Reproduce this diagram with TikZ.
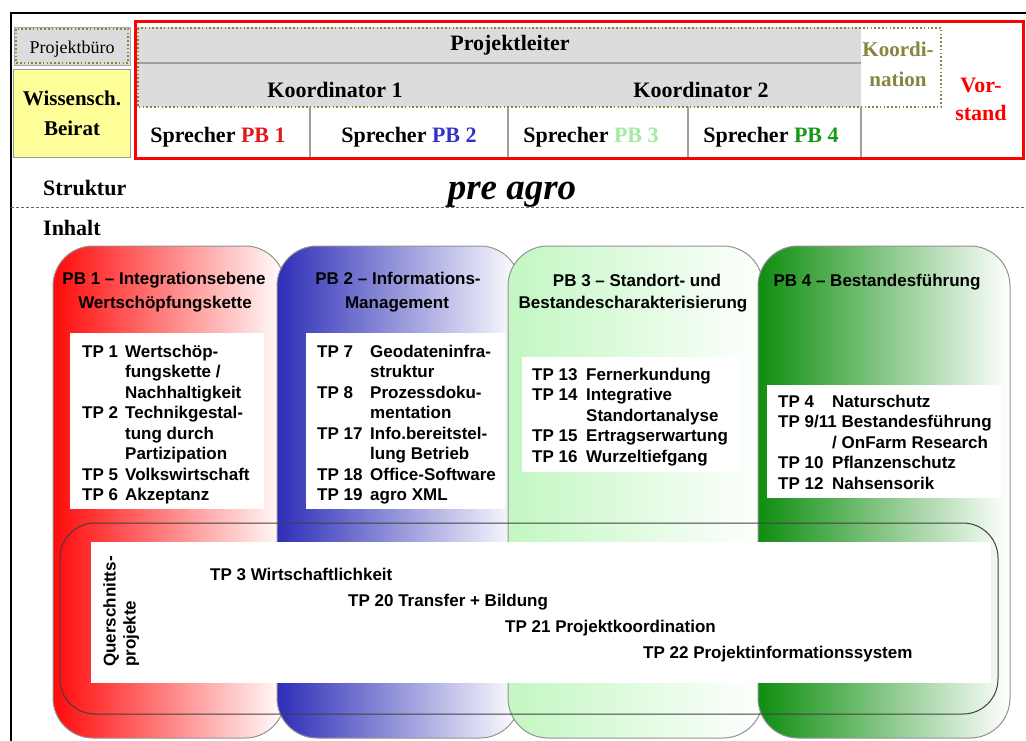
\documentclass[tikz,border=0pt]{standalone}
\usepackage{fontspec}
\setmainfont{Liberation Serif}
\newfontfamily\arialf{Liberation Sans}
\definecolor{redtxt}{HTML}{E3161C}
\definecolor{bluetxt}{HTML}{3333CC}
\definecolor{lgreentxt}{HTML}{A3EBA3}
\definecolor{greentxt}{HTML}{159A15}
\definecolor{olivec}{HTML}{85853D}
\definecolor{grayfill}{HTML}{DCDCDC}
\definecolor{yellowfill}{HTML}{FFFF99}
\definecolor{gradred}{HTML}{FF0A0A}
\definecolor{gradblue}{HTML}{2E2EB8}
\definecolor{gradlgreen}{HTML}{C2F7C2}
\definecolor{gradgreen}{HTML}{0E8E0E}
\begin{document}
\begin{tikzpicture}[x=1pt,y=-1pt,
  serifb/.style={font=\fontsize{22}{26}\selectfont\bfseries, inner sep=0pt},
  sansb/.style={font=\arialf\fontsize{17}{20.5}\selectfont\bfseries, inner sep=0pt},
  dotline/.style={draw=olivec, line width=2pt, dash pattern=on 1.6pt off 2.2pt},
  sepline/.style={draw=gray!75, line width=1.5pt},
  colbox/.style={draw=gray!85, line width=1pt, rounded corners=40pt},
  listbox/.style={fill=white, draw=none},
]
\useasboundingbox (0,0) rectangle (1026,740);
\fill[white] (0,0) rectangle (1026,740);

% outer frame
\draw[line width=2pt] (11,741) -- (11,13) -- (1027,13);

% Projektbuero
\fill[grayfill] (14,27) rectangle (130,65);
\draw[gray!70, line width=1pt] (14,27) rectangle (130,65);
\draw[dotline] (16,29) rectangle (128,63);
\node[font=\fontsize{18}{22}\selectfont, inner sep=0pt, anchor=base] (pbuero) at (72,53) {Projektbüro};

% Wissensch. Beirat
\draw[fill=yellowfill, draw=gray!80, line width=1pt] (13,69) rectangle (130,157);
\node[serifb, font=\fontsize{21}{26}\selectfont\bfseries, anchor=base] (wiss) at (72,105) {Wissensch.};
\node[serifb, font=\fontsize{21}{26}\selectfont\bfseries, anchor=base] (beirat) at (72,135) {Beirat};

% red frame and contents
\fill[white] (135,21) rectangle (1023,158);
\fill[grayfill] (137,27) rectangle (861,107);
\draw[sepline] (137,63) -- (861,63);
\foreach \xx in {310,508,688,861} \draw[sepline] (\xx,107) -- (\xx,157);
\draw[dotline] (138,28) rectangle (941,107);
\draw[red, line width=3pt] (135,21) rectangle (1023,158);

\node[serifb, anchor=base] (pl) at (510,50) {Projektleiter};
\node[serifb, anchor=base] (k1) at (335,97) {Koordinator 1};
\node[serifb, anchor=base] (k2) at (701,97) {Koordinator 2};
\node[serifb, anchor=base] (s1) at (218,142) {Sprecher \textcolor{redtxt}{PB 1}};
\node[serifb, anchor=base] (s2) at (409,142) {Sprecher \textcolor{bluetxt}{PB 2}};
\node[serifb, anchor=base] (s3) at (591,142) {Sprecher \textcolor{lgreentxt}{PB 3}};
\node[serifb, anchor=base] (s4) at (771,142) {Sprecher \textcolor{greentxt}{PB 4}};
\node[serifb, font=\fontsize{21}{26}\selectfont\bfseries, text=olivec, anchor=base] (ko1) at (898,56) {Koordi-};
\node[serifb, font=\fontsize{21}{26}\selectfont\bfseries, text=olivec, anchor=base] (ko2) at (898,86) {nation};
\node[serifb, text=red, anchor=base] (vo1) at (981,92) {Vor-};
\node[serifb, text=red, anchor=base] (vo2) at (981,120) {stand};

% Struktur / Inhalt
\node[serifb, anchor=base west] (struk) at (43,195) {Struktur};
\node[font=\fontsize{37}{40}\selectfont\bfseries\itshape, inner sep=0pt, anchor=base] (preagro) at (512,199) {pre agro};
\draw[gray!80!black, line width=1pt, dash pattern=on 3pt off 2pt] (11,207) -- (1026,207);
\node[serifb, anchor=base west] (inhalt) at (43,235) {Inhalt};

% columns
\shadedraw[colbox, left color=gradred, right color=white] (53,246) rectangle (285,738);
\shadedraw[colbox, left color=gradblue, right color=white] (277,246) rectangle (520,738);
\shadedraw[colbox, left color=gradlgreen, right color=white] (508,246) rectangle (763,738);
\shadedraw[colbox, left color=gradgreen, right color=white] (758,246) rectangle (1010,738);

% column titles
\node[sansb, anchor=base] (t1a) at (164,284) {PB 1 – Integrationsebene};
\node[sansb, anchor=base] (t1b) at (165,308) {Wertschöpfungskette};
\node[sansb, anchor=base] (t2a) at (398,284) {PB 2 – Informations-};
\node[sansb, anchor=base] (t2b) at (397,308) {Management};
\node[sansb, anchor=base] (t3a) at (637,286) {PB 3 – Standort- und};
\node[sansb, anchor=base] (t3b) at (633,308) {Bestandescharakterisierung};
\node[sansb, anchor=base] (t4a) at (877,286) {PB 4 – Bestandesführung};

% list boxes
\fill[listbox] (70,333) rectangle (264,509);
\fill[listbox] (306,333) rectangle (505,509);
\fill[listbox] (522,357) rectangle (740,472);
\fill[listbox] (767,385) rectangle (1002,498);

\node[sansb, anchor=north west] (l1) at (82,342.6) {\begin{tabular}{@{}p{43pt}@{}l@{}}
TP 1 & Wertschöp-\\ & fungskette /\\ & Nachhaltigkeit\\
TP 2 & Technikgestal-\\ & tung durch\\ & Partizipation\\
TP 5 & Volkswirtschaft\\ TP 6 & Akzeptanz
\end{tabular}};
\node[sansb, anchor=north west] (l2) at (317,342.6) {\begin{tabular}{@{}p{53pt}@{}l@{}}
TP 7 & Geodateninfra-\\ & struktur\\
TP 8 & Prozessdoku-\\ & mentation\\
TP 17 & Info.bereitstel-\\ & lung Betrieb\\
TP 18 & Office-Software\\ TP 19 & agro XML
\end{tabular}};
\node[sansb, anchor=north west] (l3) at (532,365.6) {\begin{tabular}{@{}p{54pt}@{}l@{}}
TP 13 & Fernerkundung\\
TP 14 & Integrative\\ & Standortanalyse\\
TP 15 & Ertragserwartung\\
TP 16 & Wurzeltiefgang
\end{tabular}};
\node[sansb, anchor=north west] (l4) at (778,392.6) {\begin{tabular}{@{}p{54pt}@{}l@{}}
TP 4 & Naturschutz\\
\multicolumn{2}{@{}l@{}}{TP 9/11 Bestandesführung}\\
 & / OnFarm Research\\
TP 10 & Pflanzenschutz\\
TP 12 & Nahsensorik
\end{tabular}};

% Querschnittsprojekte
\fill[white] (91,542) rectangle (991,683);
\draw[draw=black!75, line width=1pt, rounded corners=35pt] (60,523) rectangle (998,714);
\node[sansb, rotate=90, anchor=base west] (q1) at (115.5,667) {Querschnitts-};
\node[sansb, rotate=90, anchor=base west] (q2) at (135.5,667) {projekte};
\node[sansb, anchor=base west] (tp3) at (210,580) {TP 3 Wirtschaftlichkeit};
\node[sansb, anchor=base west] (tp20) at (348,606) {TP 20 Transfer + Bildung};
\node[sansb, anchor=base west] (tp21) at (505,632) {TP 21 Projektkoordination};
\node[sansb, anchor=base west] (tp22) at (643,658) {TP 22 Projektinformationssystem};
\end{tikzpicture}
\end{document}
